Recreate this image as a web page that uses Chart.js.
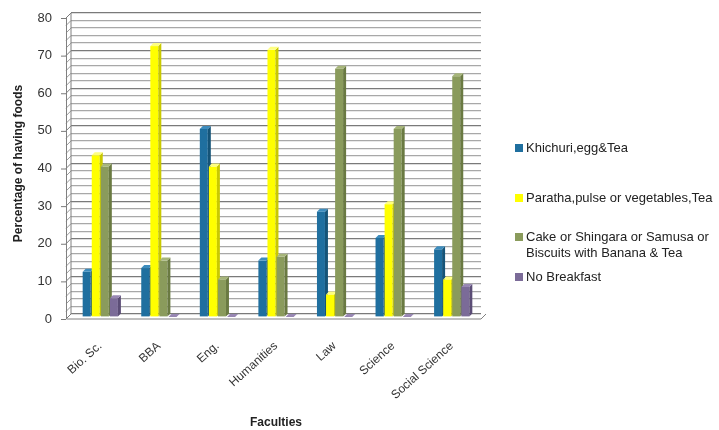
<!DOCTYPE html>
<html>
<head>
<meta charset="utf-8">
<script src="https://cdn.jsdelivr.net/npm/chart.js@4"></script>
<style>
  body { margin:0; background:#fff; }
  #wrap { position:relative; width:719px; height:430px; }
  .leg { position:absolute; left:515px; font:13px "Liberation Sans", Arial, sans-serif; color:#222; line-height:16px; }
  .leg i { position:absolute; left:0; top:4px; width:8px; height:8px; }
  .leg span { display:block; margin-left:11px; white-space:nowrap; }
</style>
</head>
<body>
<div id="wrap">
  <canvas id="c" width="719" height="430"></canvas>
  <div id="legend"></div>
</div>
<script>
const faculties = ['Bio. Sc.', 'BBA', 'Eng.', 'Humanities', 'Law', 'Science', 'Social Science'];
const khichuri = [12, 13, 50, 15, 28, 21, 18];
const paratha = [43, 72, 40, 71, 6, 30, 10];
const cake = [40, 15, 10, 16, 66, 50, 64];
const noBreakfast = [5, 0, 0, 0, 0, 0, 8];
const seriesNames = ['Khichuri,egg&Tea', 'Paratha,pulse or vegetables,Tea',
  ['Cake or Shingara or Samusa or', 'Biscuits with Banana & Tea'], 'No Breakfast'];

// front, side, top colours per series
const cols = [
  ['#1f6f9f', '#155478', '#3d8cbd'],
  ['#ffff00', '#c9c900', '#ffff80'],
  ['#8a9b5c', '#6a7a42', '#a6b57a'],
  ['#7b6b98', '#5b4d76', '#9887b3']
];

// legend
const legTops = [140, 190, 229, 269];
const leg = document.getElementById('legend');
seriesNames.forEach((n, i) => {
  const d = document.createElement('div');
  d.className = 'leg';
  d.style.top = legTops[i] + 'px';
  const lines = Array.isArray(n) ? n : [n];
  d.innerHTML = '<i style="background:' + cols[i][0] + '"></i>' + lines.map(l => '<span>' + l.replace('&', '&amp;') + '</span>').join('');
  leg.appendChild(d);
});

const D = 3;  // bar depth
const W = 5;  // wall depth
const wall3d = {
  id: 'wall3d',
  beforeDatasetsDraw(chart) {
    const {ctx, chartArea: a, scales: {y}} = chart;
    ctx.save();
    ctx.lineWidth = 1;
    y.ticks.forEach(t => {
      const py = y.getPixelForValue(t.value);
      ctx.strokeStyle = t.value % 10 === 0 ? '#7a7a7a' : '#9a9a9a';
      ctx.beginPath();
      ctx.moveTo(a.left - W, py + W);
      ctx.lineTo(a.left, py);
      ctx.stroke();
      if (t.value % 10 === 0) {
        ctx.beginPath();
        ctx.moveTo(a.left - W - 5, py + W + 0.5);
        ctx.lineTo(a.left - W, py + W + 0.5);
        ctx.stroke();
      }
    });
    ctx.strokeStyle = '#808080';
    ctx.beginPath();
    ctx.moveTo(a.left - W + 0.5, a.top + W);
    ctx.lineTo(a.left - W + 0.5, a.bottom + W);
    ctx.lineTo(a.right, a.bottom + W);
    ctx.lineTo(a.right + W, a.bottom);
    ctx.moveTo(a.left, a.top);
    ctx.lineTo(a.left, a.bottom);
    ctx.stroke();
    ctx.restore();
  },
  afterDatasetsDraw(chart) {
    const {ctx} = chart;
    ctx.save();
    chart.data.datasets.forEach((ds, i) => {
      const meta = chart.getDatasetMeta(i);
      meta.data.forEach(bar => {
        const {x, y, base, width} = bar.getProps(['x', 'y', 'base', 'width'], true);
        const l = x - width / 2, r = x + width / 2;
        // front
        ctx.fillStyle = cols[i][0];
        ctx.fillRect(l, y + D, width, base - y);
        // side
        ctx.fillStyle = cols[i][1];
        ctx.beginPath();
        ctx.moveTo(r, y + D); ctx.lineTo(r + D, y); ctx.lineTo(r + D, base); ctx.lineTo(r, base + D);
        ctx.closePath(); ctx.fill();
        // top
        ctx.fillStyle = cols[i][2];
        ctx.beginPath();
        ctx.moveTo(l, y + D); ctx.lineTo(l + D, y); ctx.lineTo(r + D, y); ctx.lineTo(r, y + D);
        ctx.closePath(); ctx.fill();
      });
    });
    ctx.restore();
  }
};

new Chart(document.getElementById('c'), {
  type: 'bar',
  data: {
    labels: faculties,
    datasets: [
      {label: 'Khichuri,egg&Tea', data: khichuri, backgroundColor: 'rgba(0,0,0,0)'},
      {label: 'Paratha,pulse or vegetables,Tea', data: paratha, backgroundColor: 'rgba(0,0,0,0)'},
      {label: 'Cake or Shingara or Samusa or Biscuits with Banana & Tea', data: cake, backgroundColor: 'rgba(0,0,0,0)'},
      {label: 'No Breakfast', data: noBreakfast, backgroundColor: 'rgba(0,0,0,0)'}
    ]
  },
  options: {
    responsive: false,
    animation: false,
    categoryPercentage: 0.62,
    barPercentage: 0.88,
    layout: {padding: {top: 13, right: 238, bottom: 0, left: 0}},
    plugins: {legend: {display: false}, tooltip: {enabled: false}},
    scales: {
      x: {
        grid: {display: false, drawTicks: false},
        border: {display: false},
        ticks: {
          maxRotation: 42, minRotation: 42, padding: 25,
          color: '#333', font: {family: 'Liberation Sans', size: 12}
        },
        title: {
          display: true, text: 'Faculties', color: '#222',
          font: {family: 'Liberation Sans', size: 12, weight: 'bold'},
          padding: {top: 0, bottom: 0}
        },
        afterFit(s) { s.height = 116; }
      },
      y: {
        min: 0, max: 80,
        ticks: {
          stepSize: 2, autoSkip: false, padding: 3, labelOffset: 5,
          color: '#333', font: {family: 'Liberation Sans', size: 13},
          callback: v => v % 10 === 0 ? v : ''
        },
        grid: {
          drawTicks: true, tickLength: 16, tickColor: 'rgba(0,0,0,0)',
          color: c => c.tick && c.tick.value % 10 === 0 ? '#7a7a7a' : '#a8a8a8',
          lineWidth: 1.2
        },
        border: {display: false},
        title: {
          display: true, text: 'Percentage of having foods', color: '#222',
          font: {family: 'Liberation Sans', size: 12, weight: 'bold'},
          padding: {top: 11, bottom: 0}
        },
        afterFit(s) { s.width = 71; }
      }
    }
  },
  plugins: [wall3d]
});
</script>
</body>
</html>
